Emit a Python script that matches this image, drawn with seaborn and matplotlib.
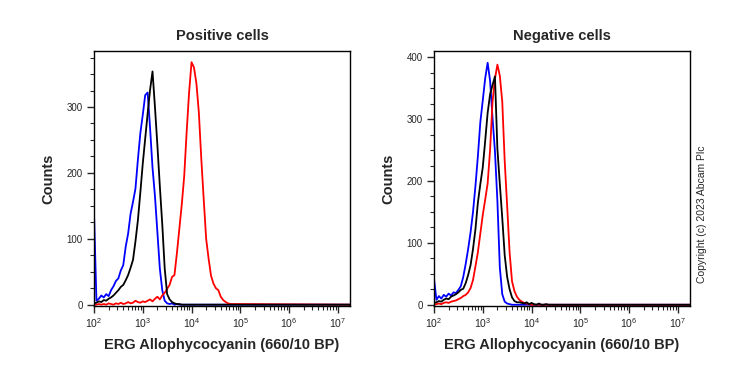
import numpy as np
import pandas as pd
import matplotlib
matplotlib.use("Agg")
import matplotlib.pyplot as plt
import matplotlib.transforms as mtransforms
from matplotlib.ticker import FixedLocator, LogLocator, NullFormatter
import seaborn as sns

# log10 bin centres of the histograms (2.00 .. 4.80, step 0.05)
log_bins = [round(2.0 + 0.05 * i, 2) for i in range(57)]
x_right = 7.25

# Positive cells
pos_blue = [140, 6, 9, 14, 11, 16, 13, 22, 28, 36, 40, 52, 60, 88, 108, 138, 156, 176, 220, 260,
            288, 318, 322, 268, 208, 165, 110, 55, 22, 6, 2, 1, 2, 0, 1, 0, 0, 0, 0, 0,
            0, 0, 0, 0, 0, 0, 0, 0, 0, 0, 0, 0, 0, 0, 0, 0, 0]
pos_black = [2, 3, 5, 4, 7, 6, 9, 11, 14, 18, 22, 27, 30, 37, 45, 56, 68, 96, 128, 170,
             214, 252, 290, 326, 354, 300, 242, 180, 122, 55, 16, 8, 4, 2, 1, 1, 0, 0, 0, 0,
             0, 0, 0, 0, 0, 0, 0, 0, 0, 0, 0, 0, 0, 0, 0, 0, 0]
pos_red = [0, 0, 1, 0, 1, 0, 2, 1, 0, 2, 1, 3, 1, 2, 4, 2, 3, 6, 4, 3,
           5, 4, 6, 8, 5, 9, 12, 8, 14, 18, 24, 30, 42, 45, 78, 115, 152, 195, 262, 322,
           368, 360, 336, 292, 222, 160, 100, 70, 44, 32, 25, 22, 12, 7, 4, 2, 1]

# Negative cells
neg_blue = [42, 8, 14, 10, 16, 13, 18, 15, 20, 19, 24, 30, 45, 66, 90, 117, 150, 192, 240, 295,
            330, 366, 391, 362, 302, 248, 168, 60, 17, 5, 2, 1, 0, 0, 0, 0, 0, 0, 0, 0,
            0, 0, 0, 0, 0, 0, 0, 0, 0, 0, 0, 0, 0, 0, 0, 0, 0]
neg_black = [3, 4, 6, 5, 8, 10, 9, 13, 15, 17, 20, 24, 26, 35, 48, 64, 90, 122, 165, 195,
             222, 265, 310, 340, 355, 369, 252, 195, 140, 80, 45, 25, 12, 6, 4, 4, 3, 2, 4, 1,
             3, 1, 0, 2, 0, 0, 1, 0, 0, 0, 0, 0, 0, 0, 0, 0, 0]
neg_red = [0, 1, 2, 1, 3, 4, 3, 5, 6, 7, 9, 11, 14, 16, 20, 27, 40, 62, 85, 115,
           145, 170, 196, 250, 328, 365, 388, 370, 328, 232, 160, 85, 38, 22, 13, 8, 5, 3, 2, 1,
           0, 0, 0, 0, 0, 0, 0, 0, 0, 0, 0, 0, 0, 0, 0, 0, 0]

titles = ["Positive cells", "Negative cells"]
x_label = "ERG Allophycocyanin (660/10 BP)"
decades = [2, 3, 4, 5, 6, 7]
colors = {"blue": "#0000ff", "red": "#ff0000", "black": "#000000"}
order = ["blue", "red", "black"]


def make_frame(series):
    rows = []
    for name, counts in series.items():
        xs = log_bins + [x_right]
        ys = counts + [0]
        for e, c in zip(xs, ys):
            rows.append({"fluor": 10 ** e, "count": c, "sample": name})
    return pd.DataFrame(rows)


panels = [
    (make_frame({"blue": pos_blue, "red": pos_red, "black": pos_black}), 385, [0, 100, 200, 300]),
    (make_frame({"blue": neg_blue, "red": neg_red, "black": neg_black}), 410, [0, 100, 200, 300, 400]),
]

sns.set_style("ticks")
plt.rcParams["font.family"] = ["Liberation Sans", "DejaVu Sans"]
plt.rcParams["mathtext.fontset"] = "custom"
plt.rcParams["mathtext.rm"] = "Liberation Sans"
plt.rcParams["mathtext.it"] = "Liberation Sans"

fig = plt.figure(figsize=(7.39, 3.70), dpi=100)
lefts = [94 / 739, 434 / 739]
for i, (df, ytop, yt) in enumerate(panels):
    ax = fig.add_axes([lefts[i], 64 / 370, 256 / 739, 255 / 370])
    ax.set_xscale("log")
    sns.lineplot(data=df, x="fluor", y="count", hue="sample", hue_order=order,
                 palette=colors, estimator=None, sort=False, legend=False,
                 linewidth=1.3, ax=ax)
    ax.set_xlim(10 ** 2, 10 ** x_right)
    ax.set_ylim(-2, ytop)

    ax.xaxis.set_major_locator(FixedLocator([10 ** d for d in decades]))
    ax.set_xticklabels([f"$10^{{{d}}}$" for d in decades], fontsize=7.5)
    ax.xaxis.set_minor_locator(LogLocator(base=10, subs=np.arange(2, 10)))
    ax.xaxis.set_minor_formatter(NullFormatter())
    shift = mtransforms.ScaledTranslation(8 / 100, 0, fig.dpi_scale_trans)
    for lab in ax.get_xticklabels():
        lab.set_transform(lab.get_transform() + shift)

    ax.set_yticks(yt)
    ax.set_yticklabels([str(v) for v in yt], fontsize=7)
    ax.yaxis.set_minor_locator(FixedLocator(np.arange(0, ytop, 25)))

    ax.tick_params(axis="x", which="major", length=5, width=1, pad=2, direction="out")
    ax.tick_params(axis="x", which="minor", length=3, width=0.8, direction="out")
    ax.tick_params(axis="y", which="major", length=5, width=1, pad=3, direction="out")
    ax.tick_params(axis="y", which="minor", length=3, width=0.8, direction="out")
    for s in ax.spines.values():
        s.set_visible(True)
        s.set_linewidth(1)
        s.set_color("black")

    ax.set_title(titles[i], fontsize=10.5, fontweight="bold", pad=8)
    ax.set_xlabel(x_label, fontsize=10.5, fontweight="bold", labelpad=6)
    ax.set_ylabel("Counts", fontsize=10.5, fontweight="bold", labelpad=8)

fig.text(702 / 739, 1 - 214 / 370, "Copyright (c) 2023 Abcam Plc", rotation=90,
         fontsize=7.5, ha="center", va="center")

fig.savefig("out.png", dpi=100)
